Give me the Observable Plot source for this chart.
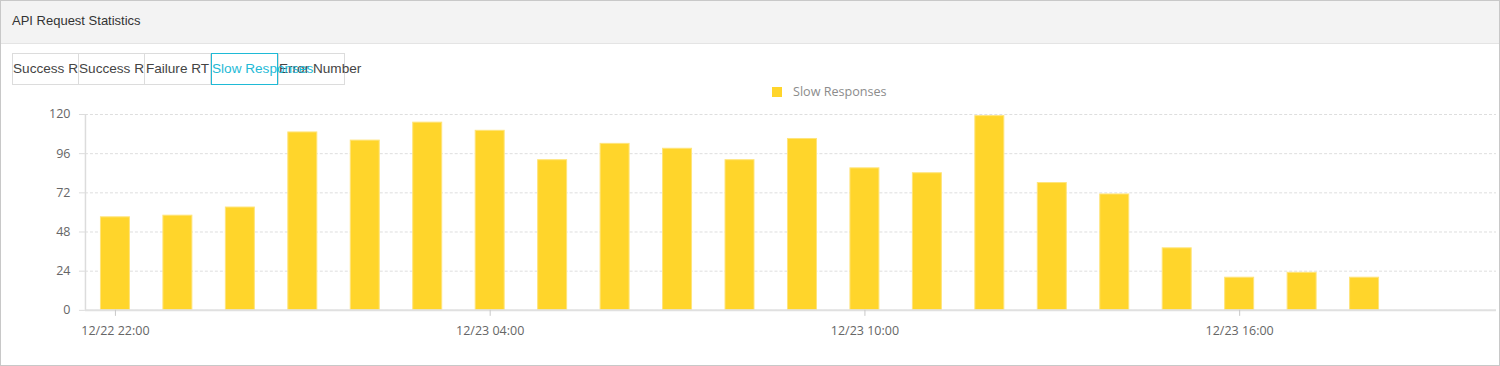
<!DOCTYPE html>
<html>
<head>
<meta charset="utf-8">
<script src="https://cdn.jsdelivr.net/npm/d3@7"></script>
<script src="https://cdn.jsdelivr.net/npm/@observablehq/plot@0.6"></script>
<style>
  html, body { margin: 0; padding: 0; background: #fff; }
  #frame { position: relative; width: 1500px; height: 366px; box-sizing: border-box; border: 1px solid #c8c8c8; overflow: hidden; font-family: "Liberation Sans", Arial, sans-serif; }
  #header { position: absolute; left: 0; top: 0; width: 100%; height: 42px; background: #f3f3f3; border-bottom: 1px solid #e4e4e4; }
  #title { position: absolute; left: 11px; top: 12px; font-size: 13px; line-height: 15px; color: #333; white-space: nowrap; }
  .tab { position: absolute; top: 52px; width: 65px; height: 30px; border: 1px solid #dcdcdc; background: #fff; font-size: 13.6px; line-height: 30px; color: #444; text-align: center; white-space: nowrap; padding: 0; }
  .tab.active { border-color: #1fbad6; color: #1fbad6; z-index: 2; background: transparent; }
  #legend { position: absolute; left: 771px; top: 81px; height: 20px; font-family: "Open Sans", sans-serif; font-size: 12.6px; color: #8c8c8c; white-space: nowrap; }
  #legend .sw { position: absolute; left: 0; top: 5px; width: 10px; height: 10px; }
  #legend .lb { position: absolute; left: 21px; top: 0; line-height: 20px; }
  #chart { position: absolute; left: -1px; top: 99px; }
</style>
</head>
<body>
<div id="frame">
  <div id="header"><div id="title"></div></div>
  <div id="tabs"></div>
  <div id="legend"><div class="sw"></div><div class="lb"></div></div>
  <div id="chart"></div>
</div>
<script>
const chartTitle = "API Request Statistics";
const tabLabels = ["Success Rate", "Success RT", "Failure RT", "Slow Responses", "Error Number"];
const activeTab = 3;
const seriesName = "Slow Responses";
const barColor = "#ffd52b";

const times = [
  "2019-12-22T22:00:00Z", "2019-12-22T23:00:00Z", "2019-12-23T00:00:00Z",
  "2019-12-23T01:00:00Z", "2019-12-23T02:00:00Z", "2019-12-23T03:00:00Z",
  "2019-12-23T04:00:00Z", "2019-12-23T05:00:00Z", "2019-12-23T06:00:00Z",
  "2019-12-23T07:00:00Z", "2019-12-23T08:00:00Z", "2019-12-23T09:00:00Z",
  "2019-12-23T10:00:00Z", "2019-12-23T11:00:00Z", "2019-12-23T12:00:00Z",
  "2019-12-23T13:00:00Z", "2019-12-23T14:00:00Z", "2019-12-23T15:00:00Z",
  "2019-12-23T16:00:00Z", "2019-12-23T17:00:00Z", "2019-12-23T18:00:00Z"
];
const slowResponses = [57, 58, 63, 109, 104, 115, 110, 92, 102, 99, 92, 105, 87, 84, 119, 78, 71, 38, 20, 23, 20];
const yTicks = [0, 24, 48, 72, 96, 120];
const xTickTimes = ["2019-12-22T22:00:00Z", "2019-12-23T04:00:00Z", "2019-12-23T10:00:00Z", "2019-12-23T16:00:00Z"];

// header, tabs, legend
document.getElementById("title").textContent = chartTitle;
const tabLefts = [11, 77, 143, 210, 277];
const tabsDiv = document.getElementById("tabs");
tabLabels.forEach((t, i) => {
  const d = document.createElement("div");
  d.className = "tab" + (i === activeTab ? " active" : "");
  d.style.left = tabLefts[i] + "px";
  d.textContent = t;
  tabsDiv.appendChild(d);
});
document.querySelector("#legend .sw").style.background = barColor;
document.querySelector("#legend .lb").textContent = seriesName;

// chart
const HOUR = 3600e3;
const data = times.map((t, i) => ({time: new Date(t), value: slowResponses[i]}));
const first = data[0].time.getTime();
const x0 = new Date(first - 0.48 * HOUR);
const x1 = new Date(first + 22.112 * HOUR);
const half = 0.232 * HOUR;

const plot = Plot.plot({
  width: 1500,
  height: 250,
  marginLeft: 85,
  marginRight: 3,
  marginTop: 14,
  marginBottom: 40,
  style: {fontFamily: "'Open Sans', sans-serif", fontSize: "12.5px", color: "#666", background: "transparent", overflow: "visible"},
  x: {type: "utc", domain: [x0, x1]},
  y: {domain: [0, 120]},
  marks: [
    Plot.gridY(yTicks, {stroke: "#dedede", strokeOpacity: 1, strokeDasharray: "3,2"}),
    Plot.rect(data, {
      x1: d => new Date(d.time.getTime() - half),
      x2: d => new Date(d.time.getTime() + half),
      y1: 0,
      y2: "value",
      fill: barColor,
      stroke: "#ffe47a",
      strokeWidth: 1
    }),
    Plot.ruleY([0], {stroke: "#e0e0e0", strokeWidth: 2}),
    Plot.ruleX([x0], {y1: 0, y2: 120, stroke: "#dcdcdc", strokeWidth: 1.5}),
    Plot.axisY(yTicks, {tickSize: 6, tickPadding: 9, stroke: "#dcdcdc", label: null}),
    Plot.axisX(xTickTimes.map(d => new Date(d)), {tickSize: 6, tickPadding: 10, stroke: "#c8c8c8", tickFormat: d3.utcFormat("%m/%d %H:%M"), label: null})
  ]
});
document.getElementById("chart").appendChild(plot);
</script>
</body>
</html>
